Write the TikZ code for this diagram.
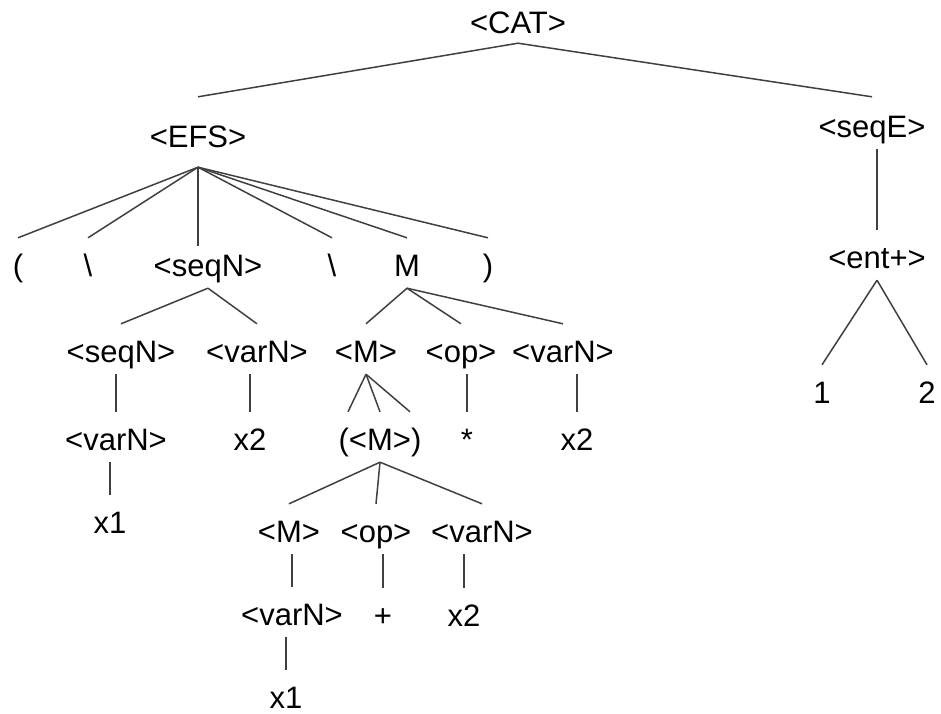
\documentclass[tikz,border=0pt]{standalone}
\usepackage{fontspec}
\setmainfont{Liberation Sans}
\usepackage{tikz}

\begin{document}
\begin{tikzpicture}[
x=1pt, y=-1pt,
treenode/.style={anchor=base, inner sep=0pt, text height=38pt, text depth=12pt, font=\fontsize{31}{36}\selectfont},
edge/.style={draw=black!75, line width=1.5pt},
]
\useasboundingbox (0,0) rectangle (941,713);
%Nodes
\node[treenode] (cat)   at (518,33)  {<CAT>};
\node[treenode] (efs)   at (198,147) {<EFS>};
\node[treenode] (seqe)  at (872,137) {<seqE>};
\node[treenode] (lpar)  at (18,276)  {(};
\node[treenode] (bsa)   at (88,276)  {\textbackslash};
\node[treenode] (seqn)  at (208,276) {<seqN>};
\node[treenode] (bsb)   at (332,276) {\textbackslash};
\node[treenode] (m)     at (407,276) {M};
\node[treenode] (rpar)  at (488,276) {)};
\node[treenode] (seqnb) at (121,362) {<seqN>};
\node[treenode] (varna) at (257,362) {<varN>};
\node[treenode] (ma)    at (366,362) {<M>};
\node[treenode] (opa)   at (461,362) {<op>};
\node[treenode] (varnb) at (563,362) {<varN>};
\node[treenode] (varnc) at (116,450) {<varN>};
\node[treenode] (x2a)   at (250,450) {x2};
\node[treenode] (pm)    at (380,450) {(<M>)};
\node[treenode] (star)  at (467,450) {*};
\node[treenode] (x2b)   at (577,450) {x2};
\node[treenode] (x1a)   at (110,533) {x1};
\node[treenode] (mb)    at (289,542) {<M>};
\node[treenode] (opb)   at (376,542) {<op>};
\node[treenode] (varnd) at (482,542) {<varN>};
\node[treenode] (varne) at (292,625) {<varN>};
\node[treenode] (plus)  at (383,626) {+};
\node[treenode] (x2c)   at (464,626) {x2};
\node[treenode] (x1b)   at (286,708) {x1};
\node[treenode] (ent)   at (877,268) {<ent+>};
\node[treenode] (one)   at (822,403) {1};
\node[treenode] (two)   at (927,403) {2};

%Lines
\draw[edge] ([yshift=2pt]cat.south) -- ([yshift=12pt]efs.north);
\draw[edge] ([yshift=2pt]cat.south) -- ([yshift=2pt]seqe.north);
\draw[edge] ([yshift=-8pt]efs.south) -- (lpar.north);
\draw[edge] ([yshift=-8pt]efs.south) -- (bsa.north);
\draw[edge] ([yshift=-8pt]efs.south) -- ([yshift=-8pt]efs.south |- seqn.north);
\draw[edge] ([yshift=-8pt]efs.south) -- (bsb.north);
\draw[edge] ([yshift=-8pt]efs.south) -- (m.north);
\draw[edge] ([yshift=-8pt]efs.south) -- (rpar.north);
\draw[edge] (seqn.south) -- (seqnb.north);
\draw[edge] (seqn.south) -- (varna.north);
\draw[edge] (m.south) -- (ma.north);
\draw[edge] (m.south) -- (opa.north);
\draw[edge] (m.south) -- (varnb.north);
\draw[edge] (varnc.north |- seqnb.south) -- (varnc.north);
\draw[edge] (x2a.north |- varna.south) -- (x2a.north);
\draw[edge] (ma.south) -- ([xshift=-32pt]pm.north);
\draw[edge] (ma.south) -- (pm.north);
\draw[edge] (ma.south) -- ([xshift=30pt]pm.north);
\draw[edge] (star.north |- opa.south) -- (star.north);
\draw[edge] (x2b.north |- varnb.south) -- (x2b.north);
\draw[edge] (x1a.north |- varnc.south) -- (x1a.north);
\draw[edge] (pm.south) -- (mb.north);
\draw[edge] (pm.south) -- (opb.north);
\draw[edge] (pm.south) -- (varnd.north);
\draw[edge] (varne.north |- mb.south) -- (varne.north);
\draw[edge] (plus.north |- opb.south) -- (plus.north);
\draw[edge] (x2c.north |- varnd.south) -- (x2c.north);
\draw[edge] (x1b.north |- varne.south) -- (x1b.north);
\draw[edge] (ent.north |- seqe.south) -- (ent.north);
\draw[edge] (ent.south) -- (one.north);
\draw[edge] (ent.south) -- (two.north);
\end{tikzpicture}
\end{document}
